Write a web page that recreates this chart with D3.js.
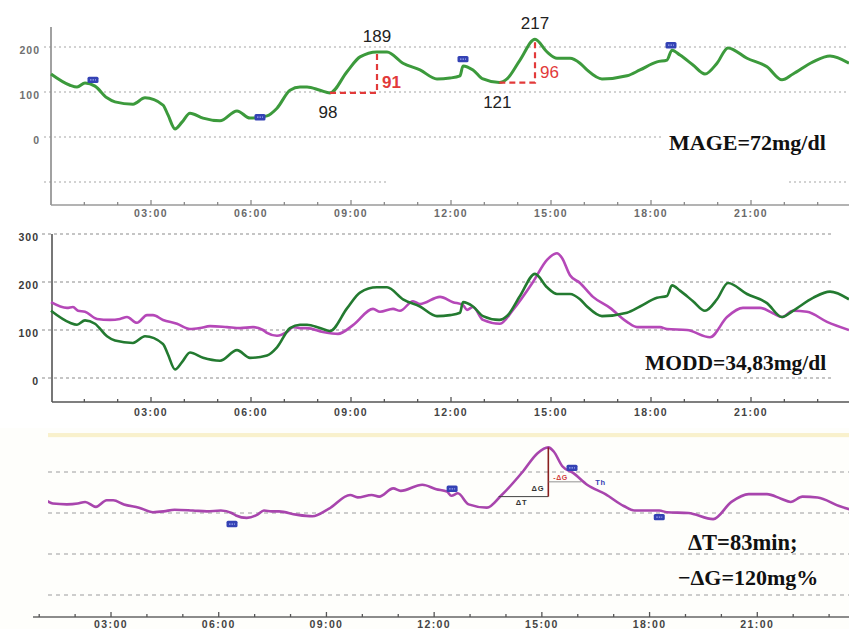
<!DOCTYPE html>
<html>
<head>
<meta charset="utf-8">
<script src="https://cdn.jsdelivr.net/npm/d3@7"></script>
<style>
  body { margin: 0; background: #ffffff; }
  svg { display: block; }
</style>
</head>
<body>
<svg id="chart" width="849" height="629"></svg>
<script>
// Glucose profile, day 1 (hours since midnight, mg/dl)
const greenHours = [0, 0.57, 0.78, 1.02, 1.32, 1.68, 1.92, 2.46, 2.82, 3.36, 3.51, 3.72, 3.93, 4.17, 4.56, 5.07, 5.58, 5.97, 6.48, 6.78, 7.17, 7.47, 7.68, 8.07, 8.37, 8.88, 9.27, 9.78, 10.08, 10.56, 11.07, 11.58, 11.97, 12.27, 12.36, 12.66, 12.96, 13.45, 13.68, 14.07, 14.52, 14.88, 15.18, 15.57, 15.87, 16.08, 16.53, 17.28, 17.67, 18.18, 18.48, 18.63, 18.87, 19.26, 19.62, 19.98, 20.31, 20.88, 21.48, 21.93, 22.26, 22.86, 23.37, 23.94];
const greenValues = [140, 115, 111, 120, 113, 87, 78, 73, 87, 71, 49, 18, 33, 53, 42, 36, 58, 42, 47, 64, 104, 111, 111, 104, 98, 145, 178, 189, 189, 164, 149, 129, 131, 136, 158, 149, 129, 121, 129, 171, 217, 189, 175, 175, 164, 149, 129, 136, 149, 167, 171, 193, 182, 160, 140, 164, 198, 175, 156, 127, 140, 167, 180, 164];

// Glucose profile, day 2
const magentaHours = [0, 0.48, 0.66, 0.81, 1.02, 1.38, 1.77, 2.07, 2.28, 2.58, 2.88, 3.06, 3.36, 3.78, 4.17, 4.47, 4.77, 5.28, 5.67, 6.06, 6.36, 6.48, 6.78, 7.08, 7.26, 7.47, 7.68, 8.16, 8.61, 9.06, 9.66, 9.87, 10.26, 10.47, 10.86, 11.07, 11.67, 12.06, 12.36, 12.48, 12.66, 12.96, 13.47, 13.86, 14.46, 14.88, 15.18, 15.33, 15.57, 15.87, 16.26, 16.77, 17.28, 17.58, 18.27, 18.48, 19.08, 19.77, 20.28, 20.76, 21.27, 21.66, 21.93, 22.26, 22.68, 23.28, 23.94];
const magentaValues = [158, 146, 148, 140, 138, 123, 121, 123, 127, 115, 131, 131, 121, 113, 102, 104, 108, 106, 104, 106, 100, 94, 88, 96, 106, 104, 104, 96, 92, 110, 144, 138, 144, 140, 160, 154, 169, 158, 152, 142, 148, 121, 113, 142, 200, 246, 260, 250, 214, 198, 169, 146, 117, 106, 106, 102, 100, 85, 127, 146, 146, 135, 127, 140, 138, 117, 100];

// Axis ticks
const tickHours = [3, 6, 9, 12, 15, 18, 21];
const tickLabels = ["03:00", "06:00", "09:00", "12:00", "15:00", "18:00", "21:00"];
const mageAxisValues = [0, 100, 200];
const mageGridValues = [-100, 0, 100, 200];
const moddAxisValues = [0, 100, 200, 300];
const slopeGridValues = [-100, 0, 100, 200];

// Glycaemic excursions (nadir -> peak)
const excursionLowHours = [8.37, 13.45];
const excursionLowValues = [98, 121];
const excursionPeakHours = [9.78, 14.52];
const excursionPeakValues = [189, 217];
const excursionAmplitudes = [91, 96];
const amplitudeWeights = ["bold", "normal"];

// Event markers
const markerHoursTop = [1.26, 6.27, 12.36, 18.6];
const markerValuesTop = [127, 44, 173, 204];
const markerHoursBottom = [6.37, 12.5, 15.84, 18.27];
const markerValuesBottom = [73, 159, 210, 90];

// Rise to the post-prandial peak
const peakHour = 15.18;
const peakValue = 260;
const deltaGlucose = 120;
const deltaMinutes = 83;
const fallLineValue = 176;
const fallLineEndHour = 16.1;

const svg = d3.select("#chart");
const W = 849;

const tickFont = "Arial, 'Liberation Sans', sans-serif";
const serif = "'Liberation Serif', 'Times New Roman', serif";

function hourTicks(g, x, yAxis, color, xMin) {
  const hrs = d3.range(1, 24).filter(h => x(h) >= xMin && x(h) <= W);
  g.selectAll(null).data(hrs).join("line")
    .attr("x1", d => x(d)).attr("x2", d => x(d))
    .attr("y1", yAxis).attr("y2", d => yAxis - (d % 3 === 0 ? 5 : 3))
    .attr("stroke", color).attr("stroke-width", 1.3);
}

function timeLabels(g, x, yBase, color) {
  g.selectAll(null).data(tickHours).join("text")
    .attr("x", d => x(d)).attr("y", yBase)
    .attr("text-anchor", "middle")
    .attr("font-family", tickFont).attr("font-size", 10.5).attr("font-weight", "bold")
    .attr("letter-spacing", 1.4)
    .attr("fill", color)
    .text((d, i) => tickLabels[i]);
}

function marker(g, cx, cy) {
  g.append("rect").attr("x", cx - 5.5).attr("y", cy - 3.2).attr("width", 11).attr("height", 6.4)
    .attr("rx", 1.5).attr("fill", "#3442b4");
  g.append("line").attr("x1", cx - 3).attr("x2", cx + 3).attr("y1", cy).attr("y2", cy)
    .attr("stroke", "#9aa6ee").attr("stroke-width", 1.2).attr("stroke-dasharray", "1.5,1");
}

/* ---------------- Panel 1: MAGE ---------------- */
{
  const g = svg.append("g");
  const x = d3.scaleLinear().domain([0, 24]).range([51, 851]);
  const y = d3.scaleLinear().domain([0, 200]).range([137, 47]);
  const axisTop = 27, axisBottom = 205;

  g.selectAll(null).data(mageGridValues).join("line")
    .attr("x1", 44).attr("x2", W).attr("y1", d => y(d)).attr("y2", d => y(d))
    .attr("stroke", "#c4c4c4").attr("stroke-width", 1.4).attr("stroke-dasharray", "2,3");

  // label panels
  g.append("rect").attr("x", 388).attr("y", y(-100) - 4).attr("width", 398).attr("height", 8).attr("fill", "#fff");
  g.append("rect").attr("x", 664).attr("y", 124).attr("width", W - 664).attr("height", 40).attr("fill", "#fff");

  g.append("line").attr("x1", 51).attr("x2", 51).attr("y1", axisTop).attr("y2", axisBottom)
    .attr("stroke", "#8a8a8a").attr("stroke-width", 1.6);
  g.append("line").attr("x1", 51).attr("x2", W).attr("y1", axisBottom).attr("y2", axisBottom)
    .attr("stroke", "#9a9a9a").attr("stroke-width", 1.4);
  hourTicks(g, x, axisBottom, "#8a8a8a", 52);
  timeLabels(g, x, 217, "#6a6a6a");

  g.selectAll(null).data(mageAxisValues).join("text")
    .attr("x", 40).attr("y", d => y(d) + 7)
    .attr("text-anchor", "end")
    .attr("font-family", tickFont).attr("font-size", 10.5).attr("font-weight", "bold")
    .attr("letter-spacing", 1).attr("fill", "#707070")
    .text(d => d);

  const line = d3.line().x((d, i) => x(greenHours[i])).y(d => y(d)).curve(d3.curveMonotoneX);
  g.append("path").datum(greenValues).attr("d", line)
    .attr("fill", "none").attr("stroke", "#3c9a3c").attr("stroke-width", 3).attr("stroke-linejoin", "round");

  markerHoursTop.forEach((h, i) => marker(g, x(h), y(markerValuesTop[i])));

  excursionLowHours.forEach((lh, i) => {
    const xl = x(lh), yl = y(excursionLowValues[i]);
    const xp = x(excursionPeakHours[i]), yp = y(excursionPeakValues[i]);
    g.append("path").attr("d", `M${xl},${yl}H${xp}V${yp}`)
      .attr("fill", "none").attr("stroke", "#e23a3a").attr("stroke-width", 2.2)
      .attr("stroke-dasharray", "6,4");
    g.append("text").attr("x", xl - 2).attr("y", yl + 25).attr("text-anchor", "middle")
      .attr("font-family", tickFont).attr("font-size", 17).attr("fill", "#222")
      .text(excursionLowValues[i]);
    g.append("text").attr("x", xp).attr("y", yp - 10).attr("text-anchor", "middle")
      .attr("font-family", tickFont).attr("font-size", 17).attr("fill", "#222")
      .text(excursionPeakValues[i]);
    g.append("text").attr("x", xp + 5).attr("y", yl - 5)
      .attr("font-family", tickFont).attr("font-size", 17).attr("font-weight", amplitudeWeights[i])
      .attr("fill", "#e23a3a")
      .text(excursionAmplitudes[i]);
  });

  g.append("text").attr("x", 669).attr("y", 150)
    .attr("font-family", serif).attr("font-size", 22).attr("font-weight", "bold").attr("fill", "#111")
    .text("MAGE=72mg/dl");
}

/* ---------------- Panel 2: MODD ---------------- */
{
  const g = svg.append("g");
  const x = d3.scaleLinear().domain([0, 24]).range([51, 851]);
  const y = d3.scaleLinear().domain([-50, 300]).range([402, 234]);
  const axisBottom = 402;

  g.selectAll(null).data(moddAxisValues).join("line")
    .attr("x1", 42).attr("x2", 833).attr("y1", d => y(d)).attr("y2", d => y(d))
    .attr("stroke", "#8c8c8c").attr("stroke-width", 1.2).attr("stroke-dasharray", "3,3");

  g.append("line").attr("x1", 52).attr("x2", 52).attr("y1", y(300)).attr("y2", axisBottom)
    .attr("stroke", "#555").attr("stroke-width", 1.6);
  g.append("line").attr("x1", 52).attr("x2", W).attr("y1", axisBottom).attr("y2", axisBottom)
    .attr("stroke", "#555").attr("stroke-width", 1.4);
  hourTicks(g, x, axisBottom, "#555", 53);
  timeLabels(g, x, 416, "#444");

  g.selectAll(null).data(moddAxisValues).join("text")
    .attr("x", 39).attr("y", d => y(d) + 7)
    .attr("text-anchor", "end")
    .attr("font-family", tickFont).attr("font-size", 10.5).attr("font-weight", "bold")
    .attr("letter-spacing", 1).attr("fill", "#3a3a3a")
    .text(d => d);

  const lineG = d3.line().x((d, i) => x(greenHours[i])).y(d => y(d)).curve(d3.curveMonotoneX);
  const lineM = d3.line().x((d, i) => x(magentaHours[i])).y(d => y(d)).curve(d3.curveMonotoneX);
  g.append("path").datum(magentaValues).attr("d", lineM)
    .attr("fill", "none").attr("stroke", "#b548b8").attr("stroke-width", 2.6).attr("stroke-linejoin", "round");
  g.append("path").datum(greenValues).attr("d", lineG)
    .attr("fill", "none").attr("stroke", "#237a30").attr("stroke-width", 2.6).attr("stroke-linejoin", "round");

  g.append("text").attr("x", 645).attr("y", 370)
    .attr("font-family", serif).attr("font-size", 21.5).attr("font-weight", "bold").attr("fill", "#111")
    .text("MODD=34,83mg/dl");
}

/* ---------------- Panel 3: rate of rise ---------------- */
{
  const g = svg.append("g");
  const x = d3.scaleLinear().domain([0, 24]).range([3.3, 865]);
  const y = d3.scaleLinear().domain([-100, 200]).range([595, 472]);
  const axisBottom = 617;
  const left = 48;

  g.append("rect").attr("x", 0).attr("y", 428).attr("width", W).attr("height", 201).attr("fill", "#fefefb");
  g.append("rect").attr("x", left).attr("y", y(295)).attr("width", W - left).attr("height", y(285) - y(295))
    .attr("fill", "#f9f1cc");

  g.selectAll(null).data(slopeGridValues).join("line")
    .attr("x1", left).attr("x2", W).attr("y1", d => y(d)).attr("y2", d => y(d))
    .attr("stroke", "#bdbdbd").attr("stroke-width", 1.3).attr("stroke-dasharray", "4,4");

  g.append("line").attr("x1", 33).attr("x2", W).attr("y1", axisBottom).attr("y2", axisBottom)
    .attr("stroke", "#666").attr("stroke-width", 1.3);
  hourTicks(g, x, axisBottom, "#555", 30);
  timeLabels(g, x, 628, "#444");

  g.append("clipPath").attr("id", "clip3").append("rect")
    .attr("x", left).attr("y", 428).attr("width", W - left).attr("height", 190);
  const lineM = d3.line().x((d, i) => x(magentaHours[i])).y(d => y(d)).curve(d3.curveMonotoneX);
  g.append("path").datum(magentaValues).attr("d", lineM).attr("clip-path", "url(#clip3)")
    .attr("fill", "none").attr("stroke", "#a845ad").attr("stroke-width", 2.6).attr("stroke-linejoin", "round");

  // ΔT / ΔG construction
  const xp = x(peakHour), yp = y(peakValue);
  const yb = y(peakValue - deltaGlucose);
  const xs = x(peakHour - deltaMinutes / 60);
  g.append("line").attr("x1", xs).attr("x2", xp).attr("y1", yb).attr("y2", yb)
    .attr("stroke", "#444").attr("stroke-width", 1);
  g.append("line").attr("x1", xp).attr("x2", xp).attr("y1", yp).attr("y2", yb)
    .attr("stroke", "#8a1e1e").attr("stroke-width", 1.6);
  g.append("text").attr("x", (xs + xp) / 2 - 2).attr("y", yb + 8).attr("text-anchor", "middle")
    .attr("font-family", tickFont).attr("font-size", 7.5).attr("font-weight", "bold").attr("fill", "#333")
    .attr("letter-spacing", 0.8).text("ΔT");
  g.append("text").attr("x", xp - 4).attr("y", (yp + yb) / 2 + 19).attr("text-anchor", "end")
    .attr("font-family", tickFont).attr("font-size", 7.5).attr("font-weight", "bold").attr("fill", "#333")
    .attr("letter-spacing", 0.8).text("ΔG");
  const yf = y(fallLineValue);
  g.append("line").attr("x1", xp).attr("x2", x(fallLineEndHour)).attr("y1", yf).attr("y2", yf)
    .attr("stroke", "#777").attr("stroke-width", 0.8);
  g.append("text").attr("x", xp + 5).attr("y", yf - 2)
    .attr("font-family", tickFont).attr("font-size", 7).attr("font-weight", "bold").attr("fill", "#d04040")
    .attr("letter-spacing", 0.6).text("-ΔG");
  g.append("text").attr("x", x(fallLineEndHour) + 14).attr("y", yf + 3)
    .attr("font-family", tickFont).attr("font-size", 7.5).attr("font-weight", "bold").attr("fill", "#3442b4")
    .attr("letter-spacing", 0.6).text("Th");

  markerHoursBottom.forEach((h, i) => marker(g, x(h), y(markerValuesBottom[i])));

  g.append("text").attr("x", 688).attr("y", 550)
    .attr("font-family", serif).attr("font-size", 22.5).attr("font-weight", "bold").attr("fill", "#111")
    .text("ΔT=83min;");
  g.append("text").attr("x", 678).attr("y", 585)
    .attr("font-family", serif).attr("font-size", 22).attr("font-weight", "bold").attr("fill", "#111")
    .text("−ΔG=120mg%");
}
</script>
</body>
</html>
